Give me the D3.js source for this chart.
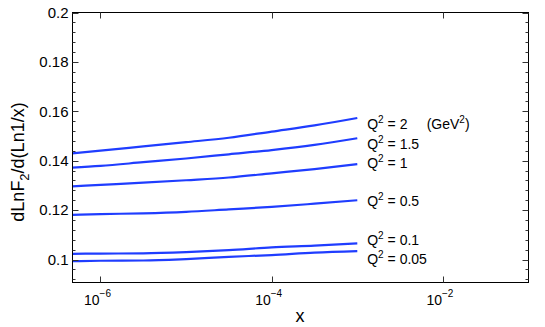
<!DOCTYPE html>
<html><head><meta charset="utf-8">
<script src="https://cdn.jsdelivr.net/npm/d3@7"></script>
<style>
body{margin:0;background:#fff;}
text{font-family:"Liberation Sans",Arial,Helvetica,sans-serif;fill:#000;}
</style></head>
<body><svg id="c" width="545" height="327"></svg>
<script>
const logX = [-6.33, -6, -5.5, -5, -4.5, -4, -3.5, -3];
const seriesNames = ["2", "1.5", "1", "0.5", "0.1", "0.05"];
const q2_2    = [0.1430, 0.1441, 0.1458, 0.1475, 0.1493, 0.1518, 0.1543, 0.1573];
const q2_1p5  = [0.1372, 0.1379, 0.1394, 0.1409, 0.1426, 0.1443, 0.1464, 0.1491];
const q2_1    = [0.1296, 0.1302, 0.1311, 0.1321, 0.1332, 0.1349, 0.1366, 0.1386];
const q2_0p5  = [0.1181, 0.1184, 0.1187, 0.1193, 0.1203, 0.1213, 0.1226, 0.1240];
const q2_0p1  = [0.1023, 0.1024, 0.1025, 0.1030, 0.1038, 0.1049, 0.1056, 0.1065];
const q2_0p05 = [0.0993, 0.0995, 0.0996, 0.1002, 0.1011, 0.1018, 0.1028, 0.1034];
const labelY = [0.15466, 0.14684, 0.13887, 0.12348, 0.10769, 0.10012];
const labelLogX = -2.884;
const unitLogX = -2.19;
const yTicks = [0.1, 0.12, 0.14, 0.16, 0.18, 0.2];
const yTickLabels = ["0.1", "0.12", "0.14", "0.16", "0.18", "0.2"];
const xTickExp = [-6, -4, -2];

const series = [q2_2, q2_1p5, q2_1, q2_0p5, q2_0p1, q2_0p05];

const svg = d3.select("#c");
const L = 72.5, R = 528.5, T = 12.5, B = 282.5;
const x = d3.scaleLog().domain([Math.pow(10, -6.327), Math.pow(10, -1)]).range([L, R]);
const y = d3.scaleLinear().domain([0.0907, 0.2]).range([B, T]);

// lines
const line = d3.line().x(d => x(Math.pow(10, d[0]))).y(d => y(d[1])).curve(d3.curveMonotoneX);
series.forEach(s => {
  svg.append("path").datum(logX.map((lx, i) => [lx, s[i]]))
    .attr("d", line).attr("fill", "none").attr("stroke", "#1f3dff").attr("stroke-width", 2.2);
});

// box
svg.append("rect").attr("x", L).attr("y", T).attr("width", R - L).attr("height", B - T)
  .attr("fill", "none").attr("stroke", "#000").attr("stroke-width", 1);

// y ticks major + minor
const minor = d3.range(0.092, 0.2001, 0.004);
const tk = svg.append("g").attr("stroke", "#333").attr("stroke-width", 1);
minor.forEach(v => {
  const isMajor = yTicks.some(t => Math.abs(t - v) < 1e-6);
  const len = isMajor ? 6 : 3;
  const py = Math.round(y(v)) + 0.5;
  tk.append("line").attr("x1", L).attr("x2", L + len).attr("y1", py).attr("y2", py);
  tk.append("line").attr("x1", R).attr("x2", R - len).attr("y1", py).attr("y2", py);
});
xTickExp.forEach(e => {
  const px = Math.round(x(Math.pow(10, e))) + 0.5;
  tk.append("line").attr("x1", px).attr("x2", px).attr("y1", B).attr("y2", B - 6);
  tk.append("line").attr("x1", px).attr("x2", px).attr("y1", T).attr("y2", T + 6);
});

// y tick labels
yTicks.forEach((v, i) => {
  svg.append("text").attr("x", L - 4).attr("y", y(v)).attr("dy", "0.35em")
    .attr("text-anchor", "end").attr("font-size", 15).text(yTickLabels[i]);
});
// x tick labels
xTickExp.forEach(e => {
  const t = svg.append("text").attr("x", x(Math.pow(10, e)) - 3).attr("y", 305)
    .attr("text-anchor", "middle").attr("font-size", 14);
  t.append("tspan").text("10");
  t.append("tspan").attr("font-size", 10).attr("dy", -8).text("\u2212" + Math.abs(e));
});

// series labels
seriesNames.forEach((n, i) => {
  const t = svg.append("text").attr("x", x(Math.pow(10, labelLogX))).attr("y", y(labelY[i]))
    .attr("dy", "0.35em").attr("font-size", 14);
  t.append("tspan").text("Q");
  t.append("tspan").attr("font-size", 10).attr("dy", -6).text("2");
  t.append("tspan").attr("dy", 6).text(" = " + n);
});
{
  const t = svg.append("text").attr("x", x(Math.pow(10, unitLogX))).attr("y", y(labelY[0]))
    .attr("dy", "0.35em").attr("font-size", 14);
  t.append("tspan").text("(GeV");
  t.append("tspan").attr("font-size", 10).attr("dy", -6).text("2");
  t.append("tspan").attr("dy", 6).text(")");
}

// axis titles
svg.append("text").attr("x", 300).attr("y", 322).attr("text-anchor", "middle").attr("font-size", 18).text("x");
{
  const t = svg.append("text").attr("transform", "translate(24,162) rotate(-90)")
    .attr("text-anchor", "middle").attr("font-size", 18);
  t.append("tspan").text("dLnF");
  t.append("tspan").attr("font-size", 13).attr("dy", 5).text("2");
  t.append("tspan").attr("dy", -5).text("/d(Ln1/x)");
}
</script></body></html>
